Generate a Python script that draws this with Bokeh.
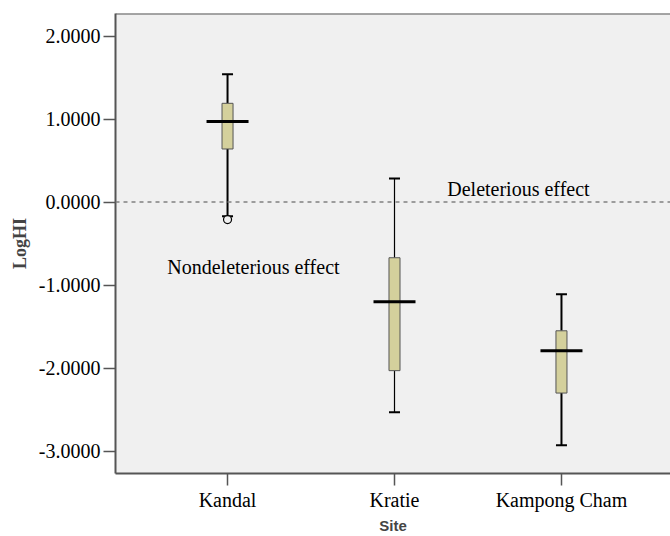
from bokeh.plotting import figure
from bokeh.models import ColumnDataSource, FixedTicker, Range1d, Span, Label
from bokeh.embed import file_html
from bokeh.resources import INLINE

# ---- data ----
sites = ["Kandal", "Kratie", "Kampong Cham"]
upper_whisker = [1.54, 0.285, -1.11]
q3 = [1.19, -0.67, -1.55]
median = [0.97, -1.20, -1.79]
q1 = [0.64, -2.03, -2.30]
lower_whisker = [-0.17, -2.53, -2.93]
outlier_site = ["Kandal"]
outlier_value = [-0.21]
y_ticks = [-3, -2, -1, 0, 1, 2]
y_tick_labels = ["-3.0000", "-2.0000", "-1.0000", "0.0000", "1.0000", "2.0000"]

xs = list(range(len(sites)))
whisker_widths = [2, 1.2, 2]

SERIF = "Liberation Serif"

p = figure(width=670, height=536, output_backend="svg", toolbar_location=None,
           x_range=Range1d(-0.671, 2.653), y_range=Range1d(-3.269, 2.272),
           min_border_left=115, min_border_right=0, min_border_top=13, min_border_bottom=62)

p.background_fill_color = "#f0f0f0"
p.border_fill_color = "white"
p.outline_line_color = None
p.xgrid.visible = False
p.ygrid.visible = False

src = ColumnDataSource(dict(x=xs, up=upper_whisker, q3=q3, med=median, q1=q1,
                            lo=lower_whisker, ww=whisker_widths))

# reference line
p.add_layout(Span(location=0, dimension="width", line_color="#808080",
                  line_dash="4 4", line_width=1.5))

# whisker stems
p.segment(x0="x", y0="up", x1="x", y1="q3", source=src, line_color="black", line_width="ww")
p.segment(x0="x", y0="q1", x1="x", y1="lo", source=src, line_color="black", line_width="ww")
# caps
p.scatter(x="x", y="up", source=src, marker="dash", size=11, line_color="black", line_width=2)
p.scatter(x="x", y="lo", source=src, marker="dash", size=11, line_color="black", line_width=2)
# boxes
p.vbar(x="x", width=0.066, top="q3", bottom="q1", source=src,
       fill_color="#d4d09c", line_color="#555555", line_width=1)
# medians
p.scatter(x="x", y="med", source=src, marker="dash", size=42, line_color="black", line_width=3)
# outliers
ox = [sites.index(s) for s in outlier_site]
p.scatter(x=ox, y=outlier_value, marker="circle", size=8, fill_color="#f0f0f0",
          line_color="black", line_width=1.2)

# annotations
p.add_layout(Label(x=1.316, y=0.156, text="Deleterious effect", text_font=SERIF,
                   text_font_size="20px", text_color="black", text_baseline="alphabetic"))
p.add_layout(Label(x=-0.361, y=-0.78, text="Nondeleterious effect", text_font=SERIF,
                   text_font_size="20px", text_color="black", text_baseline="alphabetic"))

# top border
p.add_layout(Span(location=2.272, dimension="width", line_color="#555555", line_width=2))

# axes
for ax in (p.xaxis[0], p.yaxis[0]):
    ax.axis_line_color = "#555555"
    ax.axis_line_width = 2
    ax.major_tick_line_color = "#555555"
    ax.major_tick_line_width = 1.5
    ax.major_tick_out = 12
    ax.major_tick_in = 0
    ax.minor_tick_line_color = None
    ax.major_label_text_font = SERIF
    ax.major_label_text_font_size = "20px"
    ax.major_label_text_color = "black"

p.xaxis.ticker = FixedTicker(ticks=xs)
p.xaxis.major_label_overrides = {i: s for i, s in enumerate(sites)}
p.xaxis.major_label_standoff = 3
p.xaxis.axis_label = "Site"
p.xaxis.axis_label_text_font = "Liberation Sans"
p.xaxis.axis_label_text_font_style = "bold"
p.xaxis.axis_label_text_font_size = "15px"
p.xaxis.axis_label_standoff = 3

p.yaxis.ticker = FixedTicker(ticks=y_ticks)
p.yaxis.major_label_overrides = {t: l for t, l in zip(y_ticks, y_tick_labels)}
p.yaxis.major_label_standoff = 3
p.yaxis.axis_label = "LogHI"
p.yaxis.axis_label_text_font = SERIF
p.yaxis.axis_label_text_font_style = "bold"
p.yaxis.axis_label_text_font_size = "18px"
p.yaxis.axis_label_standoff = 6

open("out.html", "w").write(file_html(p, INLINE))
